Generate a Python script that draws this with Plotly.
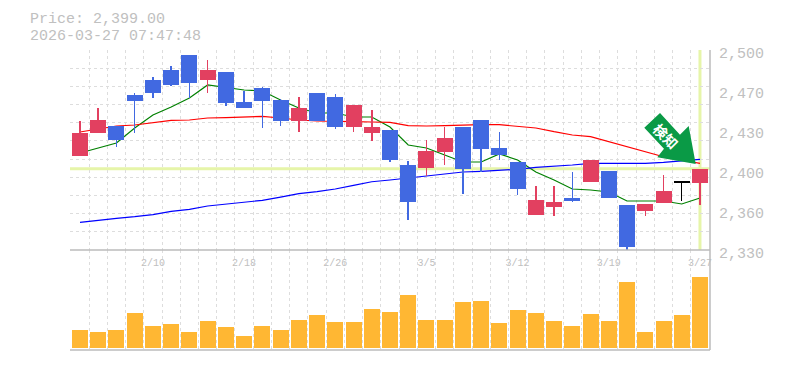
import plotly.graph_objects as go

# --- data ---
price_label = "Price: 2,399.00"
stamp_label = "2026-03-27 07:47:48"
x_idx = list(range(35))
tick_idx = [4, 9, 14, 19, 24, 29, 34]
tick_dates = ["2/10", "2/18", "2/26", "3/5", "3/12", "3/19", "3/27"]
y_ticks = [2500, 2466, 2432, 2398, 2364, 2330]
y_ticktext = ["2,500", "2,470", "2,430", "2,400", "2,360", "2,330"]

open_ = [2409.9, 2429.45, 2435.4, 2461.75, 2474.5, 2483.0, 2495.75, 2474.5, 2481.3, 2455.8,
         2467.7, 2457.5, 2439.65, 2463.45, 2460.05, 2434.55, 2429.45, 2432.0, 2402.25, 2399.7,
         2413.3, 2434.55, 2440.5, 2416.7, 2404.8, 2359.75, 2366.55, 2374.2, 2387.8, 2397.15,
         2368.25, 2363.15, 2369.95, 2387.0, 2386.95]
close = [2429.45, 2440.5, 2423.5, 2456.65, 2463.45, 2470.25, 2471.95, 2483.0, 2454.95, 2450.7,
         2456.65, 2439.65, 2450.7, 2439.65, 2434.55, 2453.25, 2434.55, 2406.5, 2370.8, 2414.15,
         2425.2, 2398.85, 2415.85, 2410.75, 2381.85, 2372.5, 2370.8, 2371.65, 2406.5, 2374.2,
         2332.55, 2369.1, 2380.15, 2388.2, 2399.0]
high = [2439.65, 2450.7, 2435.4, 2463.45, 2477.05, 2486.4, 2495.75, 2491.5, 2481.3, 2465.15,
        2468.8, 2458.35, 2460.05, 2463.45, 2462.6, 2453.25, 2449.0, 2432.0, 2405.65, 2423.5,
        2434.55, 2434.55, 2440.5, 2430.3, 2404.8, 2384.4, 2384.4, 2396.3, 2406.5, 2397.15,
        2368.25, 2369.1, 2393.75, 2388.2, 2399.0]
low = [2409.9, 2429.45, 2417.8, 2429.45, 2459.2, 2469.4, 2459.2, 2463.45, 2452.4, 2450.7,
       2433.7, 2435.4, 2430.3, 2439.65, 2432.85, 2430.3, 2422.65, 2404.8, 2355.5, 2392.9,
       2402.25, 2377.6, 2396.3, 2406.5, 2376.75, 2359.75, 2358.9, 2370.8, 2387.8, 2374.2,
       2330.0, 2358.9, 2369.95, 2371.65, 2368.25]
ma_short = [2412.45, 2416.7, 2420.95, 2433.7, 2444.75, 2451.55, 2459.2, 2470.25, 2468.1, 2466.0,
            2465.15, 2457.5, 2450.7, 2446.45, 2446.45, 2443.05, 2443.05, 2434.55, 2419.25, 2416.7,
            2410.75, 2404.8, 2404.8, 2411.6, 2406.5, 2396.3, 2389.5, 2381.85, 2381.0, 2379.3,
            2371.65, 2371.65, 2371.65, 2369.1, 2374.2]
ma_mid = [2430.3, 2432.85, 2435.4, 2436.25, 2438.4, 2440.1, 2440.5, 2442.2, 2442.6, 2443.05,
          2443.5, 2442.2, 2440.5, 2439.65, 2439.65, 2439.2, 2438.8, 2438.4, 2435.8, 2435.4,
          2435.8, 2436.25, 2436.5, 2436.5, 2435.4, 2433.7, 2430.55, 2427.75, 2426.3, 2422.05,
          2417.55, 2413.3, 2409.3, 2406.5, 2403.7]
ma_long = [2353.55, 2355.5, 2356.95, 2358.3, 2360.0, 2362.9, 2364.6, 2367.4, 2369.1, 2370.5,
           2372.2, 2375.0, 2377.85, 2379.55, 2381.85, 2385.0, 2388.0, 2389.5, 2391.2, 2392.65,
           2394.6, 2396.3, 2396.9, 2397.75, 2398.6, 2400.3, 2401.15, 2402.25, 2403.7, 2403.7,
           2403.7, 2403.7, 2404.55, 2405.65, 2407.1]
volume = [18, 16, 18, 35, 22, 24, 16, 27, 21, 12, 22, 18, 28, 33, 26, 26, 39, 36, 53, 28,
          28, 46, 47, 25, 38, 35, 27, 22, 34, 27, 66, 16, 27, 33, 71]
last_close = 2399.0
doji_index = 33

# --- styling ---
RED, BLUE, ORANGE = "#e24060", "#4169e1", "#ffb733"
GRID, AXIS, TEXT, BAND = "#dddddd", "#bbbbbb", "#c0c0c0", "#e6f5a9"
MONO = "Liberation Mono"
grid_x = [i - 0.5 for i in range(36)]
# the top line is nudged so Plotly does not drop it as coinciding with the major 2,500 tick
grid_y = [2330 + 170 * k / 11 for k in range(1, 11)] + [2499.8]

fig = go.Figure()
for vals, col in ((ma_short, "#008000"), (ma_mid, "#ff0000"), (ma_long, "#0000ff")):
    fig.add_trace(go.Scatter(x=x_idx, y=vals, mode="lines", line=dict(color=col, width=1.2),
                             xaxis="x", yaxis="y", hoverinfo="skip", showlegend=False))

up = [i for i in x_idx if close[i] >= open_[i] and i != doji_index]
down = [i for i in x_idx if close[i] < open_[i]]
for idx, col in ((up, RED), (down, BLUE), ([doji_index], "#000000")):
    bottoms = [min(open_[i], close[i]) for i in idx]
    tops = [max(open_[i], close[i]) for i in idx]
    fig.add_trace(go.Bar(
        x=idx, base=bottoms, y=[t - b for t, b in zip(tops, bottoms)], width=0.877,
        marker=dict(color=col, line=dict(width=0)), xaxis="x3", yaxis="y3", showlegend=False,
        error_y=dict(type="data", symmetric=False, array=[high[i] - t for i, t in zip(idx, tops)],
                     arrayminus=[t - low[i] for i, t in zip(idx, tops)],
                     color=col, thickness=1.5, width=0)))
fig.add_trace(go.Bar(x=x_idx, y=volume, width=0.877, marker=dict(color=ORANGE, line=dict(width=0)),
                     xaxis="x2", yaxis="y2", showlegend=False))

def px_x(p):
    return (p - 70) / 640

def px_y(p):
    return 1 - (p - 50) / 300

arrow = [(660, 113), (644.3, 127.7), (664, 148.7), (657.3, 157.3), (695.7, 164), (688.7, 126), (680, 134.7)]
path = "M " + " L ".join(f"{px_x(a):.4f},{px_y(b):.4f}" for a, b in arrow) + " Z"

shapes = [
    dict(type="line", xref="paper", yref="y", x0=0, x1=1, y0=last_close, y1=last_close,
         line=dict(color=BAND, width=3), layer="below"),
    dict(type="line", xref="x", yref="y", x0=x_idx[-1], x1=x_idx[-1], y0=2330, y1=2500,
         line=dict(color=BAND, width=3), layer="below"),
    dict(type="path", xref="paper", yref="paper", path=path, fillcolor="#0a9a46",
         line=dict(width=0), layer="above"),
    dict(type="line", xref="paper", yref="paper", x0=0, x1=1, y0=0, y1=0, line=dict(color=AXIS, width=1.5)),
    dict(type="line", xref="paper", yref="paper", x0=0, x1=1, y0=1/3, y1=1/3, line=dict(color=AXIS, width=1.5)),
    dict(type="line", xref="paper", yref="paper", x0=1, x1=1, y0=0, y1=1, line=dict(color=AXIS, width=1.5)),
]

annotations = [
    dict(text=price_label, xref="paper", yref="paper", x=px_x(28), y=px_y(19.5), xanchor="left", yanchor="middle",
         showarrow=False, font=dict(family=MONO, size=15, color=TEXT)),
    dict(text=stamp_label, xref="paper", yref="paper", x=px_x(28), y=px_y(36), xanchor="left", yanchor="middle",
         showarrow=False, font=dict(family=MONO, size=15, color=TEXT)),
    dict(text="<b>検知</b>", xref="paper", yref="paper", x=px_x(666), y=px_y(136), xanchor="center", yanchor="middle",
         textangle=45, showarrow=False, font=dict(family="Noto Sans CJK JP", size=14, color="#ffffff")),
]

x_range = [-0.548, 34.55]
DASH = "3px,3px"
vgrid = dict(tickvals=grid_x, showgrid=True, gridcolor=GRID, griddash=DASH, gridwidth=1, ticklen=0)
fig.update_layout(
    width=785, height=370, margin=dict(l=70, r=75, t=50, b=20, autoexpand=False),
    paper_bgcolor="#ffffff", plot_bgcolor="#ffffff", barmode="overlay", bargap=0,
    shapes=shapes, annotations=annotations, showlegend=False, hovermode=False,
    xaxis=dict(domain=[0, 1], range=x_range, anchor="y", tickmode="array", tickvals=tick_idx, ticktext=tick_dates,
               showgrid=False, zeroline=False, showline=False, ticks="", minor=vgrid, ticklabelstandoff=5,
               tickfont=dict(family=MONO, size=10, color=TEXT)),
    yaxis=dict(domain=[1/3, 1], range=[2330, 2500], anchor="x", side="right", tickmode="array",
               tickvals=y_ticks, ticktext=y_ticktext, showgrid=False, zeroline=False, showline=False, ticks="",
               ticklabelshift=3, ticklabelstandoff=8,
               minor=dict(tickvals=grid_y, showgrid=True, gridcolor=GRID, griddash=DASH, gridwidth=1, ticklen=0),
               tickfont=dict(family=MONO, size=15, color=TEXT)),
    xaxis2=dict(domain=[0, 1], range=x_range, anchor="y2", showticklabels=False, showgrid=False, zeroline=False,
                ticks="", tickmode="array", tickvals=grid_x, minor=vgrid),
    yaxis2=dict(domain=[0, 1/3], range=[-2, 98], anchor="x2", visible=False),
    xaxis3=dict(range=x_range, overlaying="x", anchor="y3", visible=False),
    yaxis3=dict(range=[2330, 2500], overlaying="y", anchor="x3", visible=False),
)
fig.write_html("out.html", config=dict(displayModeBar=False), post_script="document.body.style.margin='0';")
